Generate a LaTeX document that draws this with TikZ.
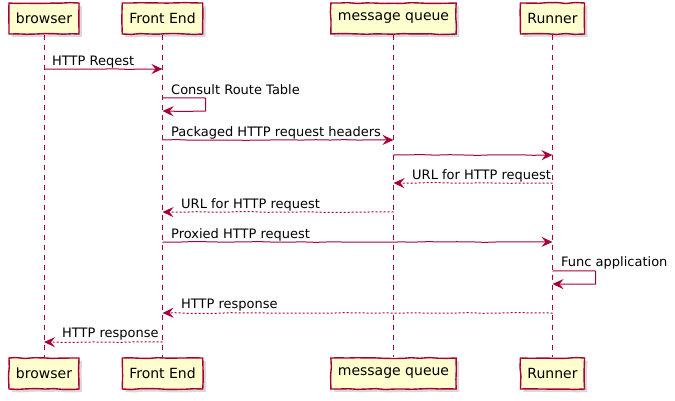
\documentclass[tikz,border=0pt]{standalone}
\usepackage{fontspec}
\setmainfont{DejaVu Sans}
\usetikzlibrary{arrows.meta,shadows,decorations.pathmorphing}
\definecolor{umlred}{HTML}{A80036}
\definecolor{umlfill}{HTML}{FEFECE}
\begin{document}
\begin{tikzpicture}[x=1pt,y=-1pt,
        actor/.style={draw=umlred,fill=umlfill,line width=1.4pt,font=\fontsize{14}{16}\selectfont,
            inner xsep=7pt,minimum height=31pt,
            drop shadow={shadow xshift=3pt,shadow yshift=-3pt,opacity=0.3},
            decorate,decoration={random steps,segment length=9pt,amplitude=0.5pt}},
        life/.style={draw=umlred,line width=0.8pt,dash pattern=on 5pt off 5pt},
        tip/.tip={Stealth[length=11pt,width=10pt,inset=4pt,line width=1.5pt]},
        msg/.style={draw=umlred,line width=1pt,-tip,
            decorate,decoration={random steps,segment length=14pt,amplitude=0.4pt}},
        reply/.style={msg,dash pattern=on 2pt off 2pt},
        lbl/.style={font=\fontsize{13}{15}\selectfont,anchor=base west,inner sep=0pt}]
        \pgfmathsetseed{7}
        \useasboundingbox (0,0) rectangle (675,400);

        \foreach \n/\x/\t in {br/44/browser, fe/162.5/Front End, mq/393.5/message queue, run/552.5/Runner}{
            \node[actor] (\n-top) at (\x, 18.5) {\t};
            \node[actor] (\n-bot) at (\x, 373.5) {\t};
            \draw[life] (\n-top) -- (\n-bot);
        }

        \draw[msg] (br-top |- 0,69) -- (fe-top |- 0,69);
        \node[lbl] (reqest) at (52, 65) {HTTP Reqest};

        \draw[msg] (fe-top |- 0,98) -- ++(43,0) -- ++(0,13) -- (fe-top |- 0,111);
        \node[lbl] (route) at (171, 94) {Consult Route Table};

        \draw[msg] (fe-top |- 0,140) -- (mq-top |- 0,140);
        \node[lbl] (packaged) at (171, 136) {Packaged HTTP request headers};

        \draw[msg] (mq-top |- 0,155) -- (run-top |- 0,155);

        \draw[reply] (run-top |- 0,183) -- (mq-top |- 0,183);
        \node[lbl] (url1) at (412, 179) {URL for HTTP request};

        \draw[reply] (mq-top |- 0,212) -- (fe-top |- 0,212);
        \node[lbl] (url2) at (181, 208) {URL for HTTP request};

        \draw[msg] (fe-top |- 0,242) -- (run-top |- 0,242);
        \node[lbl] (proxied) at (171, 238) {Proxied HTTP request};

        \draw[msg] (run-top |- 0,271) -- ++(43,0) -- ++(0,13) -- (run-top |- 0,284);
        \node[lbl] (func) at (561, 266) {Func application};

        \draw[reply] (run-top |- 0,313) -- (fe-top |- 0,313);
        \node[lbl] (resp1) at (181, 308) {HTTP response};

        \draw[reply] (fe-top |- 0,342) -- (br-top |- 0,342);
        \node[lbl] (resp2) at (62, 337) {HTTP response};
    \end{tikzpicture}
\end{document}
